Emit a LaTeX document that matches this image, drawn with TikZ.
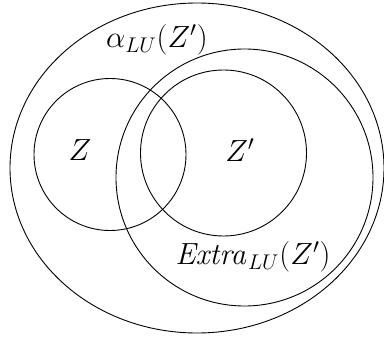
\documentclass[tikz,border=0pt]{standalone}
\usepackage{graphicx}
\usetikzlibrary{shapes.geometric}
\newcommand{\biglbl}[1]{\scalebox{1.77}{\LARGE$#1$}}
\begin{document}
\begin{tikzpicture}[x=1pt,y=-1pt,
  setline/.style={draw=black, line width=0.9pt, inner sep=0pt, outer sep=0pt},
  lbl/.style={inner sep=0pt}]
\useasboundingbox (0,0) rectangle (384,340);
\node[setline, ellipse, minimum width=374pt, minimum height=330pt] (alpha) at (197,168) {};
\node[setline, circle, minimum size=257pt] (extra) at (244.5,177.5) {};
\node[setline, circle, minimum size=152pt] (z) at (110,154.5) {};
\node[setline, circle, minimum size=166pt] (zp) at (223.5,153) {};
\node[lbl] (alphalbl) at (157,40) {\biglbl{\alpha_{LU}(Z')}};
\node[lbl] (zlbl) at (80,150) {\biglbl{Z}};
\node[lbl] (zplbl) at (240,150) {\biglbl{Z'}};
\node[lbl] (extralbl) at (253,257) {\biglbl{\mathit{Extra}_{LU}(Z')}};
\end{tikzpicture}
\end{document}
